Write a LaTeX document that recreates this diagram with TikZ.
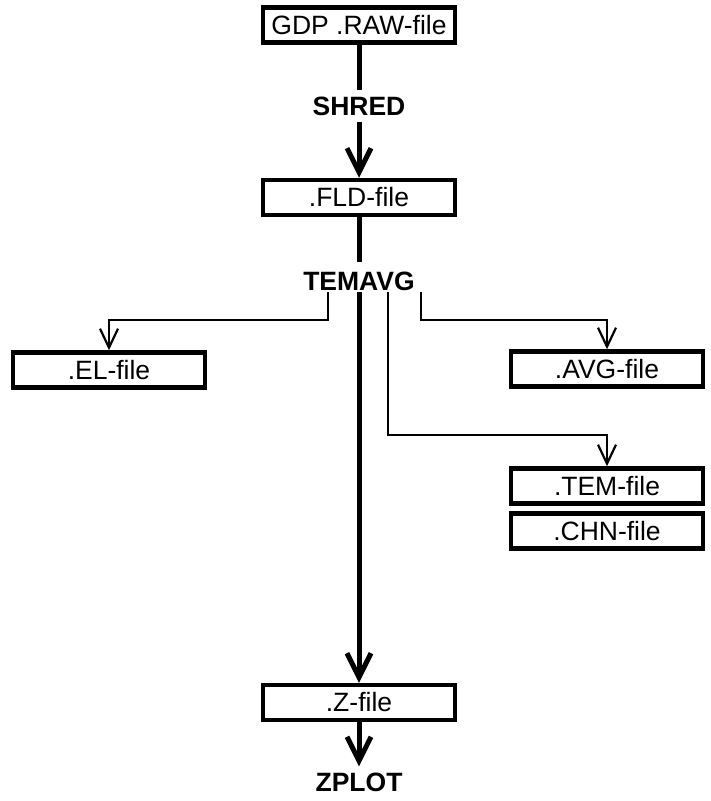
\documentclass[tikz,border=0pt]{standalone}
\usepackage{fontspec}
\setmainfont{Liberation Sans}
\usetikzlibrary{arrows.meta}
\begin{document}
\begin{tikzpicture}[x=1pt,y=-1pt,
  filebox/.style={draw, line width=4.5pt, minimum width=192pt, minimum height=35pt, inner sep=0pt, font=\fontsize{26.5}{30}\selectfont},
  prog/.style={inner sep=6pt, font=\fontsize{26.5}{30}\selectfont\bfseries},
  thickline/.style={line width=5pt},
  thinline/.style={line width=2.2pt},
  bigarrow/.style={thickline, -{Straight Barb[length=24pt,width=24pt]}},
  smallarrow/.style={thinline, -{Straight Barb[length=19pt,width=18pt]}}
]
\useasboundingbox (0,0) rectangle (711,801);

\node[filebox] (gdp) at (359,25) {GDP .RAW-file};
\node[prog] (shred) at (359,106) {SHRED};
\node[filebox] (fld) at (359,197.5) {.FLD-file};
\node[prog, inner sep=0pt] (temavg) at (359,281.5) {TEMAVG};
\node[filebox] (el) at (109,370) {.EL-file};
\node[filebox] (avg) at (607,369) {.AVG-file};
\node[filebox] (tem) at (607,486) {.TEM-file};
\node[filebox] (chn) at (607,531) {.CHN-file};
\node[filebox] (z) at (359,702.5) {.Z-file};
\node[prog] (zplot) at (359,782) {ZPLOT};

\coordinate (temtop) at (359,262);
\coordinate (bl) at (328,292);
\coordinate (bm) at (359,292);
\coordinate (bt) at (388,292);
\coordinate (br) at (421,292);
\coordinate (elbend) at (109,320);
\coordinate (avgbend) at (607,320);
\coordinate (tembend) at (607,435);

\draw[thickline] (gdp) -- (shred);
\draw[bigarrow] (shred) -- (fld);
\draw[thickline] (fld) -- (temtop);
\draw[bigarrow] (bm) -- (z);
\draw[bigarrow] (z) -- (zplot);
\draw[smallarrow] (bl) |- (elbend) -- (el.north);
\draw[smallarrow] (br) |- (avgbend) -- (avg.north);
\draw[smallarrow] (bt) |- (tembend) -- (tem.north);
\end{tikzpicture}
\end{document}
